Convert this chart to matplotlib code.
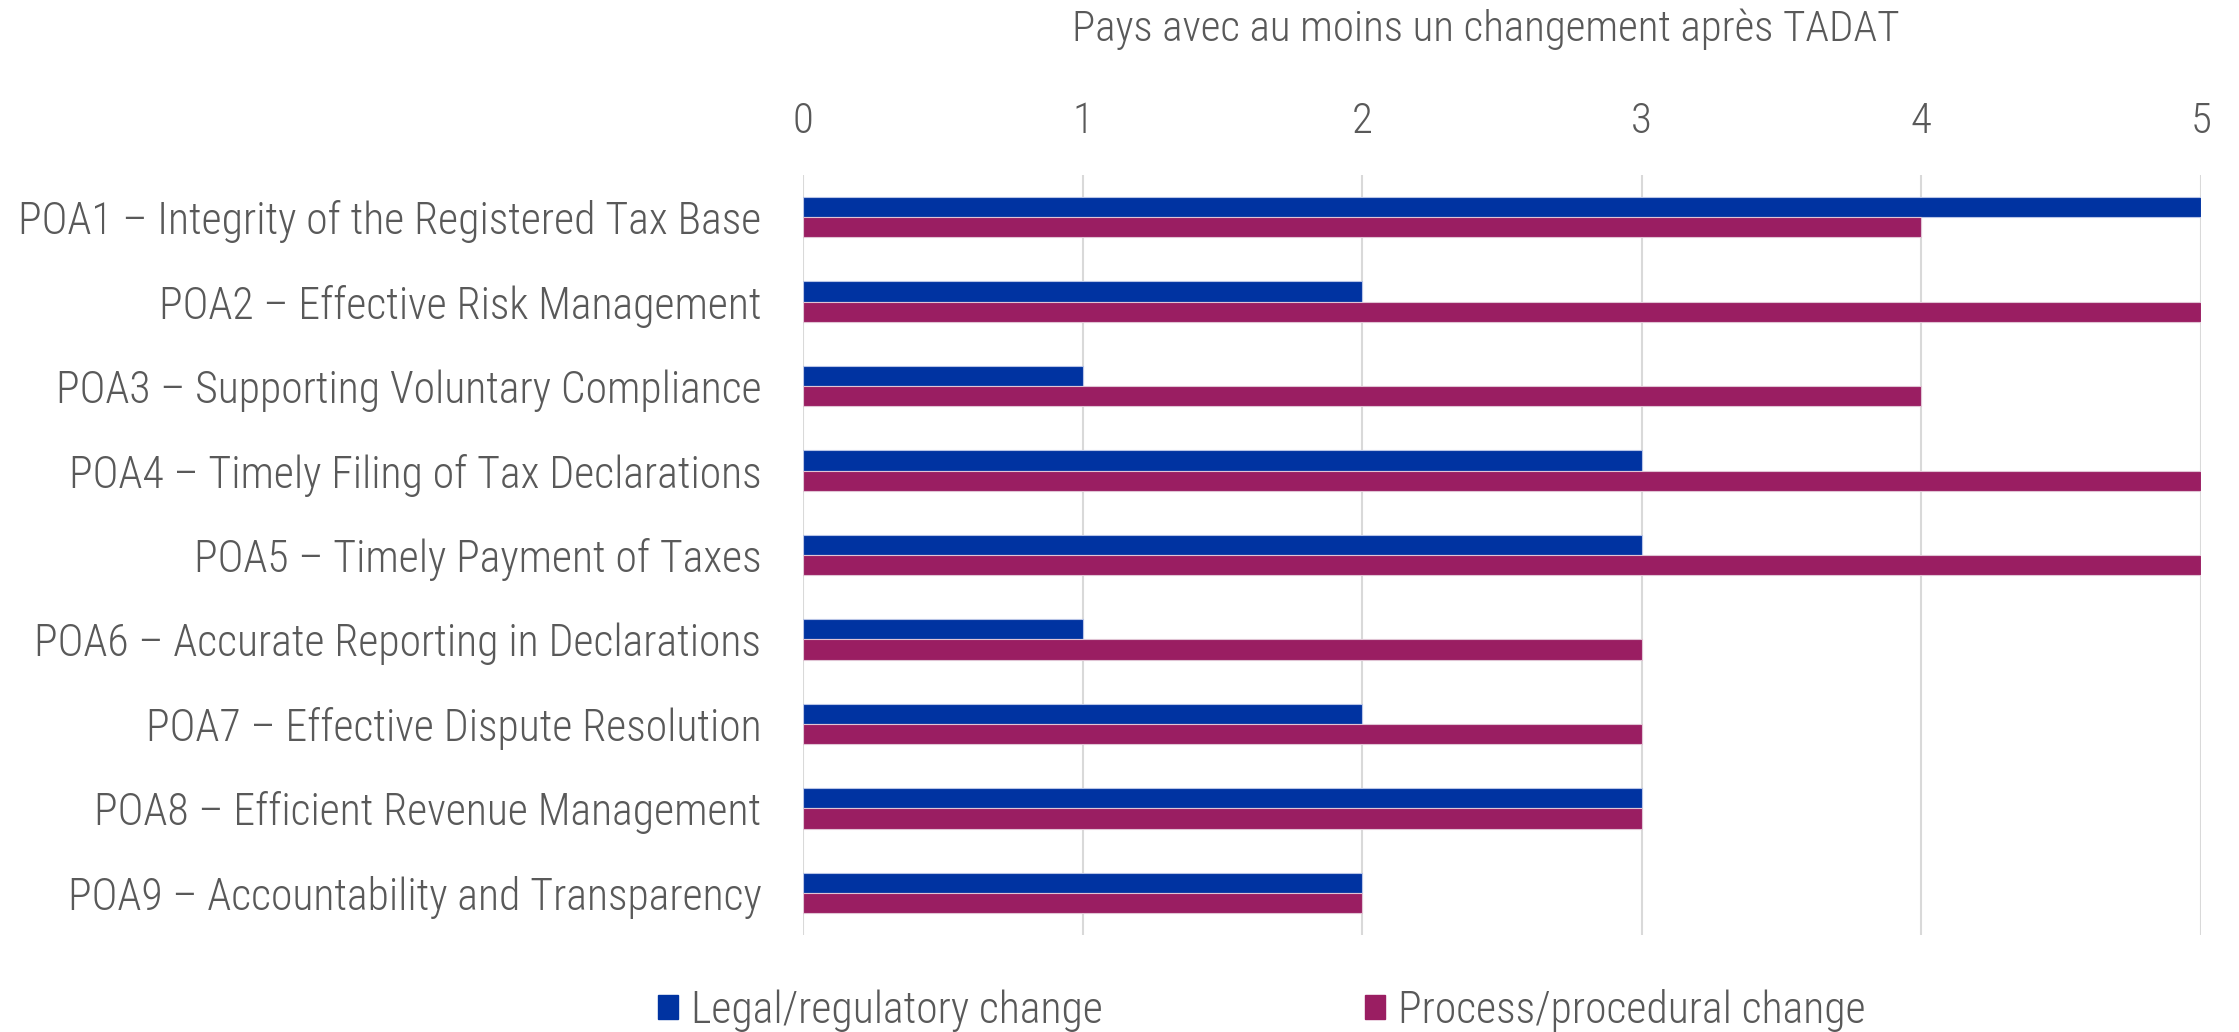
import matplotlib
matplotlib.use("Agg")
import matplotlib.pyplot as plt
import numpy as np
from matplotlib.patches import Patch

plt.rcParams['font.family'] = ['Roboto Condensed', 'DejaVu Sans']
plt.rcParams['font.weight'] = 300

categories = [
    "POA1 – Integrity of the Registered Tax Base",
    "POA2 – Effective Risk Management",
    "POA3 – Supporting Voluntary Compliance",
    "POA4 – Timely Filing of Tax Declarations",
    "POA5 – Timely Payment of Taxes",
    "POA6 – Accurate Reporting in Declarations",
    "POA7 – Effective Dispute Resolution",
    "POA8 – Efficient Revenue Management",
    "POA9 – Accountability and Transparency",
]
legal = [5, 2, 1, 3, 3, 1, 2, 3, 2]
process = [4, 5, 4, 5, 5, 3, 3, 3, 2]
series_names = ["Legal/regulatory change", "Process/procedural change"]
x_ticks = [0, 1, 2, 3, 4, 5]
title = "Pays avec au moins un changement après TADAT"

blue = "#0033A1"
magenta = "#9A1E62"
grey = "#595959"

fig = plt.figure(figsize=(22.39, 10.32), dpi=100)
ax = fig.add_axes([803/2239, 1 - 935/1032, (2201-803)/2239, (935-175)/1032])

y = np.arange(len(categories))
h = 0.24
ax.barh(y - h/2, legal, height=h, color=blue, edgecolor="#B8C4E6", linewidth=0.8, zorder=3)
ax.barh(y + h/2, process, height=h, color=magenta, edgecolor="#E0C4D4", linewidth=0.8, zorder=3)

ax.set_ylim(len(categories) - 0.5, -0.5)
ax.set_xlim(0, 5)
ax.set_yticks(y)
ax.set_yticklabels(categories, fontsize=31.5, color=grey)
ax.set_xticks(x_ticks)
ax.set_xticklabels([str(t) for t in x_ticks], fontsize=31, color=grey)
ax.xaxis.tick_top()
ax.tick_params(axis='both', length=0)
ax.tick_params(axis='x', pad=24)
ax.tick_params(axis='y', pad=30)
for s in ax.spines.values():
    s.set_visible(False)
ax.grid(axis='x', color="#D9D9D9", linewidth=1.5, zorder=0)
ax.set_axisbelow(True)

fig.text(1486/2239, 1 - 29/1032, title, ha='center', va='center', fontsize=31, color=grey)

handles = [Patch(color=blue), Patch(color=magenta)]
leg = fig.legend(handles, series_names, loc='center', bbox_to_anchor=(1262/2239, 1 - 1010/1032),
                 ncol=2, frameon=False, fontsize=31.5, labelcolor=grey, borderpad=0, borderaxespad=0,
                 handlelength=0.45, handleheight=0.45, handletextpad=0.3, columnspacing=6.0)

fig.savefig("out.png", dpi=100)
